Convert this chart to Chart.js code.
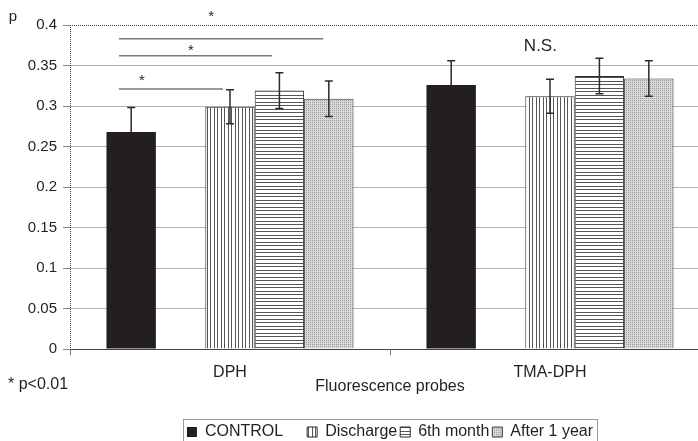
<!DOCTYPE html>
<html>
<head>
<meta charset="utf-8">
<script src="https://cdn.jsdelivr.net/npm/chart.js@4.4.1/dist/chart.umd.min.js"></script>
<style>
html, body { margin: 0; padding: 0; background: #fff; overflow: hidden; }
#wrap { width: 711px; height: 441px; }
</style>
</head>
<body>
<div id="wrap"><canvas id="chart" width="711" height="441"></canvas></div>
<script>
const categories = ['DPH', 'TMA-DPH']
const seriesNames = ['CONTROL', '', 'Discharge', '6th month', 'After 1 year']
const controlValues = [0.268, 0.326]
const dischargeValues = [0.299, 0.312]
const month6Values = [0.319, 0.337]
const year1Values = [0.309, 0.334]
const controlErrors = [0.030, 0.030]
const dischargeErrors = [0.021, 0.021]
const month6Errors = [0.022, 0.022]
const year1Errors = [0.022, 0.022]
const yTickLabels = ['0', '0.05', '0.1', '0.15', '0.2', '0.25', '0.3', '0.35', '0.4']

// significance brackets: y in data units, x as offset (in category widths) from the DPH centre
const sigMarks = [
    { y: 0.321, x1: -0.347, x2: -0.022, starX: -0.275, starY: 0.337 },
    { y: 0.362, x1: -0.347, x2: 0.131, starX: -0.122, starY: 0.374 },
    { y: 0.383, x1: -0.347, x2: 0.291, starX: -0.059, starY: 0.415 }
]

const FONT = '"Liberation Sans", Arial, Helvetica, sans-serif'
const TEXT = '#231f20'

const canvas = document.getElementById('chart')
const ctx = canvas.getContext('2d')

// fill patterns like the old Excel hatches
function makePattern(w, h, draw) {
    const c = document.createElement('canvas')
    c.width = w
    c.height = h
    draw(c.getContext('2d'))
    return ctx.createPattern(c, 'repeat')
}
const verticalHatch = makePattern(7, 7, g => {
    g.fillStyle = '#fff'; g.fillRect(0, 0, 7, 7)
    g.fillStyle = '#555'; g.fillRect(0, 0, 1, 7); g.fillRect(4, 0, 1, 7)
})
const horizontalHatch = makePattern(7, 7, g => {
    g.fillStyle = '#fff'; g.fillRect(0, 0, 7, 7)
    g.fillStyle = '#555'; g.fillRect(0, 0, 7, 1); g.fillRect(0, 4, 7, 1)
})
const dotted = makePattern(2, 2, g => {
    g.fillStyle = '#d9d9d9'; g.fillRect(0, 0, 2, 2)
    g.fillStyle = '#9a9a9a'; g.fillRect(0, 0, 1, 1)
})

// [dataset index, errors, draw lower half]
const errorBars = [[0, controlErrors, false], [2, dischargeErrors, true], [3, month6Errors, true], [4, year1Errors, true]]

const decorations = {
    id: 'decorations',
    afterDatasetsDraw(chart) {
        const c = chart.ctx
        const y = chart.scales.y
        c.save()
        c.strokeStyle = '#2b2b2b'
        c.lineWidth = 1.5
        errorBars.forEach(([ds, errs, lower]) => {
            const meta = chart.getDatasetMeta(ds)
            meta.data.forEach((bar, i) => {
                const v = chart.data.datasets[ds].data[i]
                const top = y.getPixelForValue(v + errs[i])
                const bot = lower ? y.getPixelForValue(v - errs[i]) : y.getPixelForValue(v)
                c.beginPath()
                c.moveTo(bar.x, top); c.lineTo(bar.x, bot)
                c.moveTo(bar.x - 4, top); c.lineTo(bar.x + 4, top)
                if (lower) { c.moveTo(bar.x - 4, bot); c.lineTo(bar.x + 4, bot) }
                c.stroke()
            })
        })
        c.restore()
    },
    afterDraw(chart) {
        const c = chart.ctx
        const area = chart.chartArea
        const x = chart.scales.x
        const y = chart.scales.y
        const catW = area.width / categories.length
        const px = (cat, off) => x.getPixelForValue(cat) + off * catW

        c.save()
        // dotted left axis and top line
        c.strokeStyle = '#444'
        c.lineWidth = 1
        c.setLineDash([1, 1])
        c.beginPath()
        c.moveTo(area.left + 0.5, area.top)
        c.lineTo(area.left + 0.5, area.bottom)
        c.moveTo(area.left, y.getPixelForValue(0.4) + 0.5)
        c.lineTo(chart.width, y.getPixelForValue(0.4) + 0.5)
        c.stroke()
        c.setLineDash([])

        // significance lines and stars
        c.strokeStyle = '#7a7a7a'
        c.lineWidth = 1.5
        c.fillStyle = TEXT
        c.font = '15px ' + FONT
        c.textAlign = 'center'
        c.textBaseline = 'alphabetic'
        sigMarks.forEach(m => {
            const ly = y.getPixelForValue(m.y)
            c.beginPath()
            c.moveTo(px(0, m.x1), ly)
            c.lineTo(px(0, m.x2), ly)
            c.stroke()
            c.fillText('*', px(0, m.starX), y.getPixelForValue(m.starY) + 0.57 * 15)
        })

        // N.S. over TMA-DPH
        c.font = '17px ' + FONT
        c.textBaseline = 'middle'
        c.fillText('N.S.', px(1, -0.03), y.getPixelForValue(0.374))

        // axis label p and footnote
        c.font = '15px ' + FONT
        c.fillText('p', 13, 17)
        c.textAlign = 'left'
        c.font = '16px ' + FONT
        c.fillText('* p<0.01', 8, 385)

        // legend frame
        const hb = chart.legend.legendHitBoxes
        if (hb && hb.length) {
            const last = hb[hb.length - 1]
            const l = hb[0].left - 4
            const r = last.left + last.width + 4
            const t = hb[0].top - 5
            c.strokeStyle = '#999'
            c.lineWidth = 1
            c.strokeRect(Math.round(l) + 0.5, Math.round(t) + 0.5, Math.round(r - l), 40)
        }
        c.restore()
    }
}

new Chart(ctx, {
    type: 'bar',
    data: {
        labels: categories,
        datasets: [
            { label: seriesNames[0], data: controlValues, backgroundColor: '#231f20', borderWidth: 0 },
            { label: seriesNames[1], data: [null, null], backgroundColor: 'rgba(0,0,0,0)', borderWidth: 0 },
            { label: seriesNames[2], data: dischargeValues, backgroundColor: verticalHatch, borderColor: '#2a2a2a', borderWidth: 1 },
            { label: seriesNames[3], data: month6Values, backgroundColor: horizontalHatch, borderColor: '#2a2a2a', borderWidth: 1 },
            { label: seriesNames[4], data: year1Values, backgroundColor: dotted, borderColor: '#3a3a3a', borderWidth: 1 }
        ]
    },
    options: {
        responsive: false,
        animation: false,
        events: [],
        datasets: { bar: { barPercentage: 1, categoryPercentage: 0.772 } },
        layout: { padding: { top: 25, right: 1, left: 0, bottom: -9 } },
        plugins: {
            tooltip: { enabled: false },
            legend: {
                position: 'bottom',
                fullSize: false,
                labels: {
                    font: { family: FONT, size: 16 },
                    color: TEXT,
                    boxWidth: 10,
                    boxHeight: 10,
                    padding: 3
                }
            }
        },
        scales: {
            x: {
                grid: { drawOnChartArea: false, tickLength: 6, tickColor: '#777', offset: true },
                border: { color: '#444', dash: [1, 1], width: 1 },
                ticks: { font: { family: FONT, size: 16 }, color: TEXT, padding: 8, maxRotation: 0 },
                title: {
                    display: true,
                    text: 'Fluorescence probes',
                    font: { family: FONT, size: 16 },
                    color: TEXT,
                    padding: { top: 0, bottom: 25 }
                },
                afterFit(scale) { scale.height = 72 }
            },
            y: {
                min: 0,
                max: 0.4,
                ticks: {
                    stepSize: 0.05,
                    font: { family: FONT, size: 15 },
                    color: TEXT,
                    padding: 6,
                    callback: (v, i) => yTickLabels[i]
                },
                grid: {
                    color: c => (c.index === 0 || c.index === yTickLabels.length - 1) ? 'rgba(0,0,0,0)' : '#b3b3b3',
                    tickColor: '#888',
                    tickLength: 7,
                    lineWidth: 1
                },
                border: { display: false },
                afterFit(scale) { scale.width = 70 }
            }
        }
    },
    plugins: [decorations]
})
</script>
</body>
</html>
